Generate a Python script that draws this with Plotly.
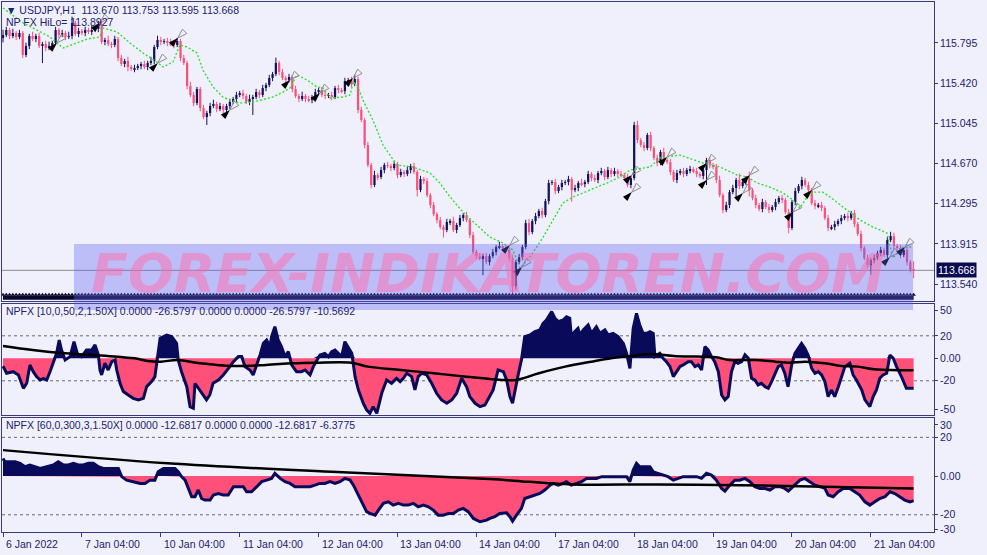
import plotly.graph_objects as go
import pandas as pd

# ---------------- data ----------------
trading_days = ["2022-01-06", "2022-01-07", "2022-01-10", "2022-01-11", "2022-01-12", "2022-01-13",
                "2022-01-14", "2022-01-17", "2022-01-18", "2022-01-19", "2022-01-20", "2022-01-21"]
first_bar = "2022-01-06 04:00"
last_bar = "2022-01-21 17:00"
tick_labels = ["6 Jan 2022", "7 Jan 04:00", "10 Jan 04:00", "11 Jan 04:00", "12 Jan 04:00", "13 Jan 04:00",
               "14 Jan 04:00", "17 Jan 04:00", "18 Jan 04:00", "19 Jan 04:00", "20 Jan 04:00", "21 Jan 04:00"]

first_open = 115.84
closes = [
    115.869, 115.916, 115.860, 115.888, 115.851, 115.888, 115.682, 115.767, 115.860, 115.832, 115.860, 115.767,
    115.785, 115.748, 115.767, 115.795, 115.916, 115.869, 115.888, 115.851, 115.860, 115.982, 115.879, 115.907,
    115.888, 115.916, 115.898, 115.916, 115.926, 115.972, 115.804, 115.823, 115.785, 115.776, 115.832, 115.654,
    115.598, 115.626, 115.570, 115.551, 115.561, 115.579, 115.598, 115.570, 115.608, 115.626, 115.757, 115.823,
    115.804, 115.813, 115.795, 115.785, 115.776, 115.813, 115.654, 115.608, 115.392, 115.308, 115.233, 115.364,
    115.186, 115.102, 115.140, 115.205, 115.224, 115.177, 115.205, 115.168, 115.205, 115.243, 115.271, 115.308,
    115.327, 115.299, 115.243, 115.271, 115.289, 115.336, 115.308, 115.373, 115.402, 115.467, 115.504, 115.608,
    115.523, 115.467, 115.448, 115.476, 115.364, 115.299, 115.271, 115.299, 115.271, 115.261, 115.289, 115.336,
    115.355, 115.308, 115.299, 115.308, 115.289, 115.373, 115.355, 115.345, 115.439, 115.448, 115.411, 115.458,
    115.168, 115.074, 114.840, 114.653, 114.466, 114.559, 114.541, 114.606, 114.653, 114.644, 114.625, 114.663,
    114.559, 114.588, 114.569, 114.606, 114.644, 114.588, 114.419, 114.522, 114.503, 114.372, 114.279, 114.194,
    114.138, 114.073, 114.045, 114.120, 114.129, 114.045, 114.092, 114.157, 114.185, 114.138, 113.998, 113.839,
    113.801, 113.783, 113.801, 113.745, 113.801, 113.839, 113.886, 113.895, 113.876, 113.858, 113.783, 113.521,
    113.745, 113.792, 113.886, 114.110, 114.026, 114.129, 114.176, 114.223, 114.185, 114.316, 114.485, 114.494,
    114.410, 114.447, 114.485, 114.494, 114.522, 114.419, 114.438, 114.485, 114.475, 114.494, 114.569, 114.531,
    114.513, 114.578, 114.597, 114.541, 114.606, 114.569, 114.597, 114.569, 114.559, 114.541, 114.466, 114.531,
    115.027, 114.887, 114.840, 114.812, 114.934, 114.812, 114.719, 114.672, 114.775, 114.700, 114.681, 114.588,
    114.513, 114.578, 114.597, 114.569, 114.606, 114.615, 114.597, 114.569, 114.550, 114.606, 114.700, 114.653,
    114.634, 114.513, 114.372, 114.232, 114.279, 114.400, 114.438, 114.513, 114.456, 114.494, 114.531, 114.419,
    114.344, 114.279, 114.241, 114.307, 114.260, 114.232, 114.260, 114.307, 114.344, 114.326, 114.213, 114.064,
    114.307, 114.410, 114.456, 114.513, 114.466, 114.419, 114.297, 114.269, 114.279, 114.251, 114.157, 114.064,
    114.073, 114.101, 114.129, 114.157, 114.176, 114.157, 114.204, 114.101, 114.008, 113.876, 113.783, 113.717,
    113.764, 113.783, 113.830, 113.858, 113.811, 113.951, 113.989, 113.895, 113.876, 113.811, 113.858, 113.745,
    113.670, 113.668]

wick_up = [
    .05, .03, .02, .04, .02, .03, .02, .03, .02, .04, .02, .03,
    .02, .03, .04, .02, .03, .02, .03, .02, .04, .06, .02, .03,
    .02, .03, .02, .04, .02, .03, .03, .02, .04, .02, .03, .02,
    .03, .02, .04, .02, .03, .02, .02, .03, .02, .04, .02, .04,
    .03, .02, .03, .04, .02, .03, .02, .03, .02, .04, .03, .02,
    .02, .03, .02, .03, .04, .02, .03, .02, .02, .03, .02, .03,
    .02, .03, .02, .04, .02, .03, .02, .03, .02, .03, .02, .05,
    .02, .03, .02, .03, .02, .03, .02, .04, .02, .03, .02, .03,
    .02, .03, .04, .02, .03, .02, .03, .02, .03, .02, .03, .04,
    .02, .03, .02, .03, .02, .04, .02, .03, .02, .03, .02, .03,
    .02, .03, .02, .04, .02, .03, .02, .03, .02, .03, .02, .03,
    .02, .03, .02, .03, .02, .04, .02, .03, .02, .03, .02, .03,
    .02, .03, .02, .03, .02, .03, .02, .04, .02, .03, .02, .03,
    .02, .03, .02, .03, .04, .02, .03, .02, .03, .02, .03, .02,
    .03, .02, .03, .02, .03, .02, .03, .02, .04, .02, .03, .02,
    .03, .02, .03, .02, .03, .02, .03, .02, .03, .02, .03, .02,
    .03, .04, .02, .03, .02, .03, .02, .03, .02, .04, .02, .03,
    .02, .03, .02, .03, .02, .03, .02, .03, .02, .03, .02, .03,
    .02, .03, .04, .02, .03, .02, .03, .02, .06, .03, .02, .06,
    .02, .03, .02, .03, .02, .03, .02, .03, .02, .03, .02, .03,
    .02, .03, .02, .03, .02, .03, .02, .03, .02, .03, .02, .03,
    .02, .03, .02, .03, .02, .03, .02, .03, .02, .03, .02, .03,
    .02, .03, .02, .03, .02, .03, .04, .03, .02, .03, .02, .03,
    .02, .083]

wick_dn = [
    .04, .02, .03, .02, .03, .02, .03, .02, .03, .02, .03, .02,
    .16, .03, .02, .03, .02, .03, .02, .03, .02, .03, .02, .03,
    .02, .03, .02, .03, .02, .03, .02, .03, .02, .03, .02, .03,
    .02, .03, .04, .02, .03, .02, .03, .02, .03, .02, .03, .02,
    .03, .02, .03, .02, .03, .02, .03, .02, .03, .02, .03, .02,
    .03, .02, .075, .03, .02, .03, .02, .03, .02, .03, .02, .03,
    .02, .03, .02, .03, .15, .02, .03, .02, .03, .02, .03, .02,
    .03, .02, .03, .02, .03, .02, .03, .02, .03, .02, .03, .02,
    .03, .02, .03, .02, .03, .02, .03, .02, .03, .02, .03, .02,
    .03, .02, .03, .02, .03, .02, .03, .02, .03, .02, .03, .02,
    .03, .02, .03, .02, .03, .02, .06, .02, .03, .02, .03, .02,
    .03, .02, .07, .02, .03, .02, .03, .02, .03, .02, .03, .02,
    .03, .02, .16, .02, .03, .02, .03, .02, .03, .02, .03, .07,
    .03, .02, .03, .02, .03, .02, .03, .02, .03, .02, .03, .02,
    .03, .02, .03, .02, .03, .11, .02, .03, .02, .03, .02, .03,
    .02, .03, .02, .03, .02, .03, .02, .03, .02, .03, .02, .03,
    .02, .03, .02, .03, .02, .03, .02, .03, .02, .03, .02, .03,
    .02, .03, .02, .03, .02, .03, .02, .03, .02, .03, .14, .03,
    .02, .03, .02, .03, .02, .03, .02, .10, .03, .02, .03, .06,
    .02, .03, .02, .03, .02, .03, .02, .03, .02, .03, .02, .05,
    .02, .03, .02, .03, .02, .03, .02, .03, .02, .03, .02, .03,
    .02, .03, .02, .03, .02, .03, .02, .03, .02, .03, .02, .03,
    .09, .03, .02, .03, .02, .03, .02, .03, .02, .03, .02, .03,
    .02, .073]

# NP FX HiLo line (bar position, price)
hilo_points = [
    (0, 116.122), (6.1, 115.982), (9.1, 115.935), (14.3, 115.851), (16.4, 115.795), (18.3, 115.748),
    (22.5, 115.795), (25.6, 115.832), (29.5, 115.851), (30.4, 115.935), (34.7, 115.898), (38.6, 115.795),
    (42.6, 115.701), (46.8, 115.617), (48.7, 115.570), (51.7, 115.617), (53.8, 115.776), (56.0, 115.757),
    (59.0, 115.701), (60.8, 115.542), (63.9, 115.383), (66.9, 115.289), (69.0, 115.261), (72.1, 115.233),
    (76.0, 115.243), (78.2, 115.261), (82.1, 115.289), (85.2, 115.336), (87.3, 115.374), (89.4, 115.495),
    (92.5, 115.448), (95.5, 115.383), (97.3, 115.374), (99.5, 115.280), (103.4, 115.289), (105.6, 115.308),
    (106.5, 115.430), (107.7, 115.402), (109.5, 115.261), (112.5, 115.074), (115.6, 114.840), (119.8, 114.653),
    (124.7, 114.634), (129.9, 114.578), (132.9, 114.485), (136.0, 114.354), (139.9, 114.213), (145.1, 114.064),
    (148.1, 113.979), (152.1, 113.923), (155.1, 113.858), (157.3, 113.689), (160.3, 113.792), (164.3, 113.979),
    (167.3, 114.138), (170.3, 114.297), (173.4, 114.354), (178.6, 114.419), (183.7, 114.485), (187.7, 114.541),
    (190.7, 114.606), (196.8, 114.634), (199.8, 114.719), (205.9, 114.747), (212.9, 114.672), (218.1, 114.634),
    (223.3, 114.560), (226.3, 114.541), (229.4, 114.485), (233.3, 114.447), (237.3, 114.391), (240.3, 114.326),
    (242.4, 114.251), (244.6, 114.354), (246.4, 114.400), (249.4, 114.400), (251.6, 114.354), (256.7, 114.232),
    (260.7, 114.138), (264.6, 114.073), (268.9, 114.017), (270.7, 113.783), (273.8, 113.886), (276.8, 113.886)]

# HiLo switch arrows (bar position, price)
arrow_points = [
    (16.4, 115.795), (29.5, 115.982), (47.1, 115.608), (53.2, 115.841), (69.0, 115.168), (87.3, 115.448),
    (96.4, 115.327), (106.5, 115.467), (154.2, 113.904), (157.9, 113.699), (191.3, 114.560), (191.3, 114.400),
    (202.0, 114.728), (214.1, 114.672), (214.1, 114.513), (227.2, 114.560), (225.1, 114.391), (240.3, 114.213),
    (246.1, 114.419), (269.8, 113.792), (274.4, 113.886)]

# NPFX [10,0,50,2,1.50X] oscillator (bar position, value)
npfx1_points = [
    (0, -7.0), (1.1, -13.3), (3.1, -11.9), (4.7, -14.8), (6.2, -26.7), (7.2, -22.2), (8.2, -5.9), (9.2, -11.9),
    (10.2, -16.3), (11.3, -19.3), (12.3, -17.8), (13.3, -19.3), (14.3, -11.9), (15.3, -3.0), (16.3, 4.4),
    (17.1, 16.3), (17.8, 7.4), (18.9, -1.5), (20.4, 1.5), (21.6, 14.8), (22.6, 4.4), (23.9, 1.5), (25.4, 7.4),
    (27.0, 7.4), (28.0, 11.9), (29.0, 3.0), (29.5, -10.4), (30.0, -14.8), (31.0, -4.4), (32.0, -10.4),
    (33.1, -3.0), (34.1, -1.5), (34.6, -10.4), (35.6, -22.2), (36.6, -29.6), (38.1, -32.6), (39.6, -35.6),
    (41.2, -37.0), (42.7, -35.6), (43.7, -25.2), (45.2, -20.7), (46.2, -16.3), (47.2, 3.0), (47.8, 17.8),
    (49.8, 20.7), (51.3, 19.3), (52.8, 13.3), (53.3, -1.5), (54.3, -11.9), (55.9, -25.2), (56.9, -43.0),
    (57.9, -44.4), (58.4, -22.2), (59.4, -26.7), (60.4, -31.1), (61.9, -37.0), (62.9, -32.6), (63.9, -22.2),
    (65.5, -19.3), (67.0, -14.8), (69.0, -7.4), (70.1, -3.0), (71.6, 1.5), (72.6, 1.5), (73.6, -7.4),
    (75.1, -10.4), (76.1, -14.8), (77.2, -5.9), (78.2, 3.0), (79.2, 13.3), (80.2, 16.3), (81.2, 10.4),
    (81.7, 19.3), (82.7, 28.1), (83.7, 16.3), (84.7, 10.4), (85.8, 1.5), (86.8, 5.9), (87.8, -5.9),
    (89.3, -11.9), (90.8, -11.9), (91.9, -10.4), (93.4, -14.8), (94.4, -7.4), (96.4, 3.0), (97.9, 4.4),
    (99.0, 1.5), (100.0, 5.9), (101.0, 7.4), (102.0, 4.4), (103.0, 1.5), (104.0, 14.8), (105.0, 10.4),
    (106.1, 4.4), (107.1, -16.3), (108.1, -28.1), (109.6, -40.0), (110.6, -45.9), (111.6, -48.9),
    (112.6, -43.0), (113.7, -48.9), (115.2, -31.1), (116.7, -19.3), (118.2, -22.2), (119.7, -17.8),
    (120.8, -20.7), (121.8, -17.8), (122.8, -13.3), (124.3, -16.3), (125.3, -28.1), (126.3, -16.3),
    (127.4, -13.3), (128.9, -14.8), (130.4, -22.2), (131.9, -31.1), (133.4, -37.0), (135.0, -40.0),
    (136.5, -37.0), (138.0, -31.1), (139.5, -17.8), (141.0, -25.2), (142.0, -34.1), (143.6, -40.0),
    (145.1, -43.0), (146.6, -41.5), (148.1, -32.6), (149.1, -28.1), (150.6, -10.4), (152.2, -11.9),
    (153.2, -19.3), (154.2, -34.1), (155.0, -40.0), (155.7, -28.1), (156.7, -14.8), (157.7, -1.5),
    (158.7, 19.3), (160.3, 20.7), (161.8, 23.7), (163.3, 25.2), (164.3, 31.1), (165.3, 34.1), (166.9, 41.5),
    (167.9, 35.6), (168.9, 32.6), (170.4, 34.1), (171.4, 37.0), (172.4, 35.6), (172.9, 19.3), (173.9, 23.7),
    (174.9, 26.7), (175.5, 20.7), (176.5, 25.2), (178.0, 29.6), (179.0, 22.2), (180.5, 28.1), (181.6, 22.2),
    (183.1, 25.2), (184.1, 20.7), (185.6, 22.2), (187.1, 19.3), (188.7, 13.3), (189.7, 4.4), (190.7, -8.9),
    (191.2, 8.9), (191.7, 26.7), (192.7, 40.0), (193.7, 29.6), (194.7, 22.2), (195.8, 22.2), (196.8, 23.7),
    (197.8, 22.2), (198.3, 1.5), (199.8, 4.4), (200.8, 0.0), (201.8, -3.0), (202.9, -7.4), (203.9, -16.3),
    (204.9, -11.9), (205.9, -7.4), (206.9, -5.9), (208.4, -3.0), (209.4, -3.0), (210.5, -7.4), (211.5, -5.9),
    (212.5, -10.4), (213.5, 10.4), (214.5, 7.4), (215.5, 1.5), (216.5, -3.0), (217.6, -11.9), (218.6, -32.6),
    (219.6, -37.0), (220.6, -34.1), (221.6, -11.9), (222.6, -3.0), (223.6, -4.4), (224.7, -3.0), (225.7, 3.0),
    (226.7, 0.0), (227.7, -17.8), (228.7, -19.3), (229.7, -23.7), (230.7, -22.2), (231.8, -25.2),
    (232.8, -26.7), (233.8, -20.7), (234.8, -14.8), (235.8, -7.4), (236.8, -5.9), (237.8, -13.3),
    (238.8, -25.2), (239.9, -5.9), (240.9, 4.4), (242.9, 13.3), (243.9, 8.9), (244.9, 3.0), (246.0, -8.9),
    (247.0, -13.3), (248.0, -11.9), (249.0, -14.8), (250.0, -20.7), (251.0, -34.1), (252.0, -28.1),
    (253.0, -34.1), (254.1, -25.2), (255.1, -16.3), (256.1, -7.4), (257.6, -4.4), (258.6, -14.8),
    (259.6, -19.3), (261.2, -28.1), (262.2, -37.0), (263.7, -43.0), (264.7, -34.1), (265.7, -28.1),
    (266.7, -17.8), (267.7, -14.8), (268.8, -13.3), (269.8, 3.0), (270.8, 0.0), (271.8, -7.4), (273.3, -16.3),
    (274.8, -26.7), (276.3, -26.7), (277.0, -26.6)]
npfx1_signal = [
    (0, 11.0), (9, 7.4), (19, 4.4), (30, 2.4), (40, 0.0), (44, -2.4), (48, -3.0), (53, -1.5), (60, -4.4),
    (70, -6.8), (80, -5.9), (88, -4.4), (95, -3.9), (106, -3.9), (111, -7.4), (121, -10.4), (131, -13.3),
    (141, -16.3), (151, -19.0), (156, -19.3), (163, -13.3), (171, -7.4), (179, -3.0), (185, 0.0), (191, 2.1),
    (197, 3.9), (204, 2.1), (211, 1.5), (217, 0.9), (221, -1.5), (229, -1.5), (235, -3.0), (239, -3.9),
    (244, -3.0), (250, -4.4), (255, -6.8), (260, -7.4), (265, -9.8), (270, -10.4), (277, -10.6)]

# NPFX [60,0,300,3,1.50X] oscillator (bar position, value)
npfx2_points = [
    (0, 9.1), (0.6, 7.4), (2.1, 7.4), (3.7, 7.4), (5.2, 6.6), (6.7, 4.8), (8.2, 5.7), (9.7, 4.8), (11.3, 3.9),
    (13.3, 4.8), (15.3, 5.7), (16.8, 7.4), (18.4, 5.7), (19.9, 5.7), (21.4, 6.6), (22.9, 5.7), (24.4, 5.7),
    (26.0, 6.6), (27.5, 6.6), (29.0, 4.8), (30.5, 3.9), (32.0, 3.9), (33.6, 3.9), (35.1, 3.9), (36.1, -0.3),
    (37.6, -2.1), (39.6, -2.9), (41.7, -3.8), (43.2, -3.8), (44.7, -2.1), (46.2, -2.1), (47.2, 2.2),
    (48.8, 3.9), (50.3, 3.9), (52.3, 3.9), (53.3, 2.2), (54.3, -0.3), (55.4, -2.1), (56.4, -6.4),
    (57.4, -10.7), (58.4, -10.7), (59.4, -7.2), (60.4, -11.6), (61.4, -12.4), (63.0, -12.4), (64.0, -9.8),
    (65.5, -9.0), (67.0, -9.8), (68.5, -9.8), (70.1, -5.5), (71.6, -5.5), (73.1, -5.5), (74.1, -8.1),
    (75.6, -8.1), (77.2, -5.5), (78.7, -2.9), (80.2, -2.1), (81.7, -1.2), (82.7, 1.4), (84.3, -1.2),
    (85.8, -2.9), (87.3, -3.8), (88.8, -5.5), (90.3, -5.5), (91.9, -5.5), (93.4, -5.5), (94.9, -4.7),
    (96.4, -3.8), (97.9, -3.8), (99.5, -2.9), (101.0, -3.8), (102.5, -2.9), (104.0, -1.2), (105.6, -2.1),
    (106.6, -4.7), (108.1, -9.8), (109.6, -15.0), (110.6, -18.4), (111.6, -19.3), (113.2, -20.2),
    (114.2, -17.6), (115.7, -14.1), (117.2, -13.3), (118.7, -15.0), (120.3, -14.1), (121.8, -15.0),
    (123.3, -15.0), (124.8, -14.1), (126.3, -15.9), (127.9, -15.0), (129.4, -15.9), (130.9, -17.6),
    (132.4, -20.2), (133.9, -20.2), (135.5, -19.3), (137.0, -19.3), (138.5, -17.6), (140.0, -16.7),
    (141.5, -18.4), (143.1, -21.9), (145.1, -23.6), (147.1, -22.8), (148.1, -21.9), (149.6, -21.0),
    (151.1, -19.3), (153.2, -19.0), (154.2, -21.0), (155.0, -23.3), (156.2, -20.2), (157.7, -16.7),
    (158.7, -11.6), (160.3, -10.7), (161.8, -9.8), (163.3, -9.0), (164.8, -7.2), (166.4, -4.7), (167.4, -3.8),
    (168.9, -4.7), (170.4, -3.8), (171.4, -2.9), (172.9, -4.7), (174.5, -3.8), (176.0, -2.9), (177.5, -1.2),
    (179.0, -1.2), (180.5, -1.2), (182.1, -0.3), (183.6, -0.3), (185.6, 0.0), (187.6, -0.3), (189.7, -0.3),
    (190.7, -2.9), (191.7, 3.1), (192.7, 6.6), (193.7, 4.8), (195.3, 4.8), (196.8, 4.8), (197.8, 2.2),
    (199.3, 1.4), (200.8, 0.5), (202.3, -0.3), (203.9, -2.1), (205.4, -1.2), (206.9, -0.3), (208.9, -0.3),
    (211.0, -0.3), (212.5, -1.2), (214.0, 1.4), (215.5, 0.5), (217.0, -2.1), (218.6, -6.4), (219.6, -7.8),
    (221.1, -4.7), (222.6, -2.1), (224.1, -2.1), (225.7, -1.2), (227.2, -2.9), (228.7, -5.5), (230.2, -6.4),
    (231.8, -6.4), (233.3, -7.2), (234.8, -5.5), (236.3, -5.5), (237.8, -6.4), (238.9, -7.8), (240.4, -5.5),
    (242.4, -2.1), (243.9, -1.2), (245.4, -2.9), (247.0, -4.7), (248.5, -5.5), (250.0, -6.4), (251.0, -9.8),
    (252.5, -10.7), (254.1, -8.1), (255.6, -6.4), (257.6, -6.4), (259.1, -8.1), (260.6, -9.8),
    (262.2, -13.3), (263.7, -15.0), (265.2, -13.3), (266.7, -11.6), (268.3, -10.7), (269.8, -8.1),
    (271.3, -9.0), (272.8, -10.7), (274.3, -12.4), (275.9, -13.3), (277.0, -12.7)]
npfx2_signal = [(0, 13.4), (50, 6.6), (100, 2.2), (148, -1.5), (160, -3.0), (173, -4.3), (199, -4.3),
                (224, -4.7), (250, -5.5), (277, -6.4)]

price_ticks = [115.795, 115.420, 115.045, 114.670, 114.295, 113.915, 113.540]
osc1_ticks = [(42.9, "50"), (20, "20"), (0, "0.00"), (-20, "-20"), (-45.1, "-50")]
osc2_ticks = [(26.4, "30"), (20, "20"), (0, "0.00"), (-20, "-20"), (-27.4, "-30")]
osc_levels = [20, -20]

header_main = "\u25BC USDJPY,H1  113.670 113.753 113.595 113.668"
header_hilo = "NP FX HiLo= 113.8927"
header_osc1 = "NPFX [10,0,50,2,1.50X] 0.0000 -26.5797 0.0000 0.0000 -26.5797 -10.5692"
header_osc2 = "NPFX [60,0,300,3,1.50X] 0.0000 -12.6817 0.0000 0.0000 -12.6817 -6.3775"
watermark = "FOREX-INDIKATOREN.COM"

# ---------------- styling ----------------
BG = "#f0f0fc"
FRAME = "#3a3a7a"
TXT = "#22226a"
BULL = "#12125e"
BEAR = "#fb5079"
NAVY = "#0a0a5a"
PINK = "#ff5079"
FONT = "Liberation Sans"

# ---------------- derived ----------------
times = []
for d in trading_days:
    for h in range(24):
        t = pd.Timestamp(d) + pd.Timedelta(hours=h)
        if pd.Timestamp(first_bar) <= t <= pd.Timestamp(last_bar):
            times.append(t)
n = len(closes)
assert len(times) == n == len(wick_up) == len(wick_dn), (len(times), n, len(wick_up), len(wick_dn))
idx = list(range(n))
tick_pos = [i for i, t in enumerate(times) if t.hour == 4]

opens = [first_open] + closes[:-1]
highs = [max(o, c) + w for o, c, w in zip(opens, closes, wick_up)]
lows = [min(o, c) - w for o, c, w in zip(opens, closes, wick_dn)]
bull = [c >= o for o, c in zip(opens, closes)]

price_range = [113.381, 116.178]
osc1_range = [-50.4, 48.3]
osc2_range = [-28.9, 30.0]
x_range = [-0.304, 283.2]

fig = go.Figure()

# candles: wicks
for flag, col in ((True, BULL), (False, BEAR)):
    wx, wy = [], []
    for i in idx:
        if bull[i] == flag:
            wx += [i, i, None]
            wy += [lows[i], highs[i], None]
    fig.add_trace(go.Scatter(x=wx, y=wy, mode="lines", line=dict(color=col, width=1),
                             xaxis="x", yaxis="y", hoverinfo="skip"))
# candles: bodies
fig.add_trace(go.Bar(x=idx, y=[max(abs(c - o), 0.009) for o, c in zip(opens, closes)],
                     base=[min(o, c) for o, c in zip(opens, closes)], width=0.68,
                     marker=dict(color=[BULL if b else BEAR for b in bull], line=dict(width=0)),
                     xaxis="x", yaxis="y", hoverinfo="skip"))

# HiLo dotted line
fig.add_trace(go.Scatter(x=[p[0] for p in hilo_points], y=[p[1] for p in hilo_points], mode="lines",
                         line=dict(color="#2fe02f", width=1.4, dash="2px,2px"), xaxis="x", yaxis="y"))
# switch arrows
fig.add_trace(go.Scatter(x=[p[0] for p in arrow_points], y=[p[1] for p in arrow_points], mode="markers",
                         marker=dict(symbol="arrow-open", size=10, angle=225, color="#8a8a8a",
                                     line=dict(width=1, color="#8a8a8a")), xaxis="x", yaxis="y"))
fig.add_trace(go.Scatter(x=[p[0] for p in arrow_points], y=[p[1] for p in arrow_points], mode="markers",
                         marker=dict(symbol="arrow", size=10, angle=45, color="#000000"), xaxis="x", yaxis="y"))

# bottom band of tiny arrows
band_lvl = price_range[0] + 0.030
fig.add_trace(go.Scatter(x=idx, y=[band_lvl] * n, mode="lines", line=dict(color="#08082a", width=4),
                         xaxis="x", yaxis="y"))
fig.add_trace(go.Scatter(x=idx, y=[band_lvl + 0.028] * n, mode="markers",
                         marker=dict(symbol="triangle-up", size=4, color="#08082a"), xaxis="x", yaxis="y"))


def osc_traces(points, signal, xa, ya):
    xs = [p[0] for p in points]
    vs = [p[1] for p in points]
    fig.add_trace(go.Scatter(x=xs, y=[max(v, 0) for v in vs], mode="lines", fill="tozeroy", fillcolor=NAVY,
                             line=dict(width=0, color=NAVY), xaxis=xa, yaxis=ya))
    fig.add_trace(go.Scatter(x=xs, y=[min(v, 0) for v in vs], mode="lines", fill="tozeroy", fillcolor=PINK,
                             line=dict(width=0, color=PINK), xaxis=xa, yaxis=ya))
    fig.add_trace(go.Scatter(x=xs, y=vs, mode="lines", line=dict(color=NAVY, width=3), xaxis=xa, yaxis=ya))
    fig.add_trace(go.Scatter(x=[p[0] for p in signal], y=[p[1] for p in signal], mode="lines",
                             line=dict(color="#000000", width=2.5, shape="spline"), xaxis=xa, yaxis=ya))


osc_traces(npfx1_points, npfx1_signal, "x2", "y2")
osc_traces(npfx2_points, npfx2_signal, "x3", "y3")

axis_common = dict(showgrid=False, zeroline=False, showline=True, linecolor=FRAME, linewidth=1, mirror=True)
tickfont = dict(family=FONT, size=10.5, color=TXT)


def yaxis(domain, rng, vals, texts):
    return dict(domain=domain, range=rng, side="right", tickvals=vals, ticktext=texts, ticks="outside",
                ticklen=3, tickcolor=FRAME, tickfont=tickfont, fixedrange=True, **axis_common)


shapes = []
for ya in ("y2", "y3"):
    for lvl in osc_levels:
        shapes.append(dict(type="line", xref="paper", x0=0, x1=1, yref=ya, y0=lvl, y1=lvl, layer="below",
                           line=dict(color="#6a6a6a", width=1, dash="3px,3px")))
# bid line
shapes.append(dict(type="line", xref="paper", x0=0, x1=1, yref="y", y0=closes[-1], y1=closes[-1], layer="below",
                   line=dict(color="#8c8c8c", width=1)))
# watermark band
shapes.append(dict(type="rect", xref="paper", yref="paper", x0=0.0773, x1=0.9775, y0=0.4189, y1=0.5434,
                   fillcolor="rgba(100,100,240,0.36)", line=dict(width=0), layer="above"))

annotations = []


def txt(x, y, s, **kw):
    d = dict(x=x, y=y, xref="paper", yref="paper", text=s, showarrow=False, xanchor="left", yanchor="middle",
             font=dict(family=FONT, size=10.5, color=TXT))
    d.update(kw)
    annotations.append(d)


txt(0.002, 0.985, header_main)
txt(0.002, 0.9623, header_hilo)
txt(0.002, 0.417, header_osc1)
txt(0.002, 0.2019, header_osc2)
annotations.append(dict(x=0.5215, y=0.4868, xref="paper", yref="paper", text=watermark, showarrow=False,
                        xanchor="center", yanchor="middle",
                        font=dict(family="DejaVu Sans", size=54, color="rgba(255,110,170,0.5)",
                                  weight="bold", style="italic")))
for pos, lab in zip(tick_pos, tick_labels):
    annotations.append(dict(x=pos, y=-0.0226, xref="x3", yref="paper", text=lab, showarrow=False,
                            xanchor="left", yanchor="middle", xshift=1, font=dict(family=FONT, size=10.5, color=TXT)))
annotations.append(dict(x=1, y=closes[-1], xref="paper", yref="y", text=f"{closes[-1]:.3f}", showarrow=False,
                        xanchor="left", yanchor="middle", xshift=2, bgcolor="#0a0a50", borderpad=1,
                        font=dict(family=FONT, size=10.5, color="#ffffff")))

fig.update_layout(
    width=987, height=555, margin=dict(l=2, r=53, t=2, b=23, autoexpand=False),
    paper_bgcolor=BG, plot_bgcolor=BG, showlegend=False, hovermode=False, barmode="overlay",
    xaxis=dict(domain=[0, 1], range=x_range, anchor="y", showticklabels=False, ticks="", **axis_common),
    xaxis2=dict(domain=[0, 1], range=x_range, anchor="y2", matches="x", showticklabels=False, ticks="", **axis_common),
    xaxis3=dict(domain=[0, 1], range=x_range, anchor="y3", matches="x", tickvals=tick_pos, ticks="outside",
                ticklen=4, tickcolor=FRAME, showticklabels=False, **axis_common),
    yaxis=yaxis([0.4358, 1], price_range, price_ticks, [f"{v:.3f}" for v in price_ticks]),
    yaxis2=yaxis([0.2208, 0.4302], osc1_range, [t[0] for t in osc1_ticks], [t[1] for t in osc1_ticks]),
    yaxis3=yaxis([0, 0.2151], osc2_range, [t[0] for t in osc2_ticks], [t[1] for t in osc2_ticks]),
    shapes=shapes, annotations=annotations,
)

fig.write_html("out.html", config={"displayModeBar": False},
               post_script="document.body.style.margin='0px';document.body.style.background='" + BG + "';")
